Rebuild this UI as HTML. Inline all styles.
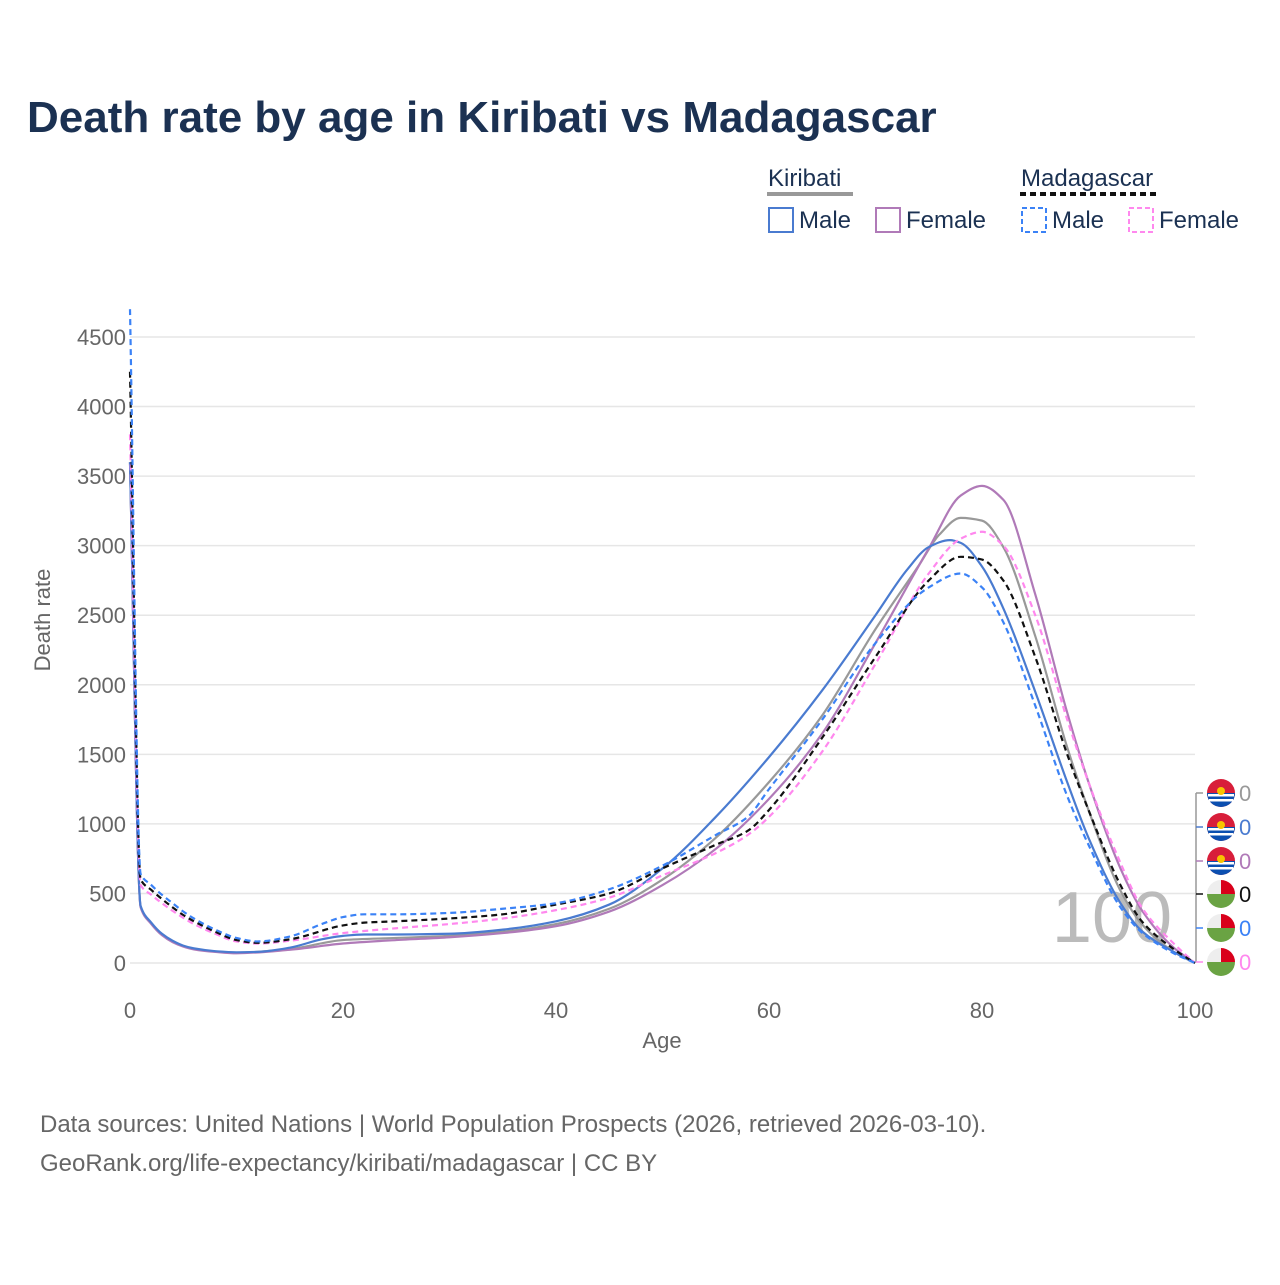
<!DOCTYPE html>
<html><head><meta charset="utf-8"><style>
body{margin:0;background:#fff;font-family:"Liberation Sans",sans-serif}
svg text{font-family:"Liberation Sans",sans-serif}
</style></head><body>
<svg id="c" width="1280" height="1280" xmlns="http://www.w3.org/2000/svg">
<text x="27" y="132" font-size="44" font-weight="bold" fill="#1b3152">Death rate by age in Kiribati vs Madagascar</text>
<g>
<text x="768" y="186" font-size="24" fill="#1b3152">Kiribati</text>
<line x1="767" y1="194" x2="853" y2="194" stroke="#999" stroke-width="4"/>
<rect x="769" y="208" width="24" height="24" fill="none" stroke="#4a7bd0" stroke-width="2"/>
<text x="799" y="228" font-size="24" fill="#1b3152">Male</text>
<rect x="876" y="208" width="24" height="24" fill="none" stroke="#b07ab8" stroke-width="2"/>
<text x="906" y="228" font-size="24" fill="#1b3152">Female</text>
<text x="1021" y="186" font-size="24" fill="#1b3152">Madagascar</text>
<line x1="1020" y1="194" x2="1160" y2="194" stroke="#111" stroke-width="4" stroke-dasharray="6,4"/>
<rect x="1022" y="208" width="24" height="24" fill="none" stroke="#3b82f6" stroke-width="2" stroke-dasharray="5,3"/>
<text x="1052" y="228" font-size="24" fill="#1b3152">Male</text>
<rect x="1129" y="208" width="24" height="24" fill="none" stroke="#ff88ee" stroke-width="2" stroke-dasharray="5,3"/>
<text x="1159" y="228" font-size="24" fill="#1b3152">Female</text>
</g>
<g id="grid"></g>
<text x="1112" y="942" font-size="72" fill="#bbb" text-anchor="middle">100</text>
<g id="lines"></g>
<g id="side"></g>
<text x="662" y="1048" font-size="22" fill="#666" text-anchor="middle">Age</text>
<text transform="translate(50,620) rotate(-90)" font-size="22" fill="#666" text-anchor="middle">Death rate</text>
<text x="40" y="1132" font-size="24" fill="#666">Data sources: United Nations | World Population Prospects (2026, retrieved 2026-03-10).</text>
<text x="40" y="1171" font-size="24" fill="#666">GeoRank.org/life-expectancy/kiribati/madagascar | CC BY</text>
</svg>
<script>
const yTicks=[0,500,1000,1500,2000,2500,3000,3500,4000,4500];
const xTicks=[0,20,40,60,80,100];
const kirTotAges=[0,1,2,3,4,5,6,8,10,15,20,25,30,35,40,45,50,55,60,65,70,74,76,78,80,82,85,88,90,93,95,98,100];
const kirTotVals=[3600,405,285,205,155,122,102,83,74,100,165,180,195,225,280,390,600,900,1300,1780,2400,2850,3080,3200,3180,2990,2350,1550,1100,520,280,80,0];
const kirMaleAges=[0,1,2,3,4,5,6,8,10,12,15,18,20,22,25,30,35,40,45,50,55,60,65,70,73,75,77,78,80,82,85,88,90,93,95,98,100];
const kirMaleVals=[3600,410,290,210,160,125,105,85,77,80,110,170,195,205,205,210,240,300,420,680,1050,1480,1960,2500,2830,2990,3040,3020,2850,2550,1950,1300,900,430,230,80,0];
const kirFemAges=[0,1,2,3,4,5,6,8,10,15,20,25,30,35,40,45,50,55,60,65,70,75,78,80,82,85,88,90,93,95,98,100];
const kirFemVals=[3600,400,280,200,150,118,98,80,70,95,140,165,185,215,265,370,560,820,1180,1650,2300,2980,3360,3430,3330,2650,1800,1300,680,380,110,0];
const madMaleAges=[0,1,2,3,4,5,6,8,10,12,15,18,20,22,25,30,35,40,45,50,55,58,60,65,70,75,78,80,82,85,88,90,93,95,98,100];
const madMaleVals=[4700,640,560,490,430,370,320,240,180,155,190,280,330,350,350,360,390,430,530,700,920,1050,1250,1750,2300,2700,2800,2700,2450,1850,1200,850,400,220,70,0];
const madTotAges=[0,1,2,3,4,5,6,8,10,12,15,20,22,25,30,35,40,45,50,55,58,60,65,70,75,78,80,82,85,88,90,93,95,98,100];
const madTotVals=[4250,600,525,460,400,345,300,225,165,145,170,270,290,300,320,350,420,500,680,850,950,1100,1620,2200,2750,2920,2900,2750,2200,1500,1100,560,300,100,0];
const madFemAges=[0,1,2,3,4,5,6,8,10,12,15,20,25,30,35,40,45,50,55,58,60,65,70,75,78,80,82,85,88,90,93,95,98,100];
const madFemVals=[3800,560,490,430,375,325,280,210,155,140,160,215,250,280,320,380,470,630,790,920,1050,1520,2150,2800,3050,3100,3000,2500,1750,1300,720,400,140,0];
const endLabels=["0","0","0","0","0","0"];

const NS="http://www.w3.org/2000/svg";
const X=a=>130+a*(1195-130)/100;
const Y=v=>963-v*(963-337)/4500;
function mk(t,attrs,parent){const e=document.createElementNS(NS,t);for(const k in attrs)e.setAttribute(k,attrs[k]);parent.appendChild(e);return e;}
const grid=document.getElementById('grid');
yTicks.forEach(v=>{
  const l=mk('line',{x1:130,x2:1195,y1:Y(v),y2:Y(v),stroke:'#e6e6e6','stroke-width':1.5},grid);
  
  
  const t=mk('text',{x:126,y:Y(v)+8,'font-size':22,fill:'#666','text-anchor':'end'},grid);
  t.textContent=v;
  
  
});
xTicks.forEach(a=>{
  const t=mk('text',{x:X(a),y:1018,'font-size':22,fill:'#666','text-anchor':'middle'},grid);
  t.textContent=a;
  
  
});
function path(ages,vals){
  const p=ages.map((a,i)=>[X(a),Y(vals[i])]);
  const n=p.length,d=[],m=new Array(n);
  for(let i=0;i<n-1;i++)d.push((p[i+1][1]-p[i][1])/(p[i+1][0]-p[i][0]));
  m[0]=d[0];m[n-1]=d[n-2];
  for(let i=1;i<n-1;i++){
    if(d[i-1]*d[i]<=0){m[i]=0;continue;}
    const h0=p[i][0]-p[i-1][0],h1=p[i+1][0]-p[i][0];
    const w1=2*h1+h0,w2=h1+2*h0;
    m[i]=(w1+w2)/(w1/d[i-1]+w2/d[i]);
  }
  let s='M'+p[0][0]+','+p[0][1];
  for(let i=0;i<n-1;i++){
    const h=(p[i+1][0]-p[i][0])/3;
    s+=`C${p[i][0]+h},${p[i][1]+m[i]*h} ${p[i+1][0]-h},${p[i+1][1]-m[i+1]*h} ${p[i+1][0]},${p[i+1][1]}`;
  }
  return s;
}
const lines=document.getElementById('lines');
const series=[
 [kirTotAges,kirTotVals,'#999999','', 'line-kiribati-total'],
 [kirFemAges,kirFemVals,'#b07ab8','', 'line-kiribati-female'],
 [kirMaleAges,kirMaleVals,'#4a7bd0','', 'line-kiribati-male'],
 [madFemAges,madFemVals,'#ff88ee','6,4', 'line-madagascar-female'],
 [madTotAges,madTotVals,'#111111','6,4', 'line-madagascar-total'],
 [madMaleAges,madMaleVals,'#3b82f6','6,4', 'line-madagascar-male']];
series.forEach(s=>{
  const e=mk('path',{d:path(s[0],s[1]),fill:'none',stroke:s[2],'stroke-width':2.2,'stroke-dasharray':s[3]},lines);
  
  
});
const side=document.getElementById('side');
const cols=['#999','#4a7bd0','#b07ab8','#111','#3b82f6','#ff88ee'];
const ys=[793,827,861,894,928,962];
mk('line',{x1:1196,x2:1196,y1:793,y2:962,stroke:'#999','stroke-width':1.5},side);
ys.forEach((y,i)=>{
  mk('line',{x1:1196,x2:1203,y1:y,y2:y,stroke:cols[i],'stroke-width':1.5},side);
  const g=mk('g',{},side);
  
  
  const r=14,cx=1221;
  if(i<3){
    mk('circle',{cx:cx,cy:y,r:r,fill:'#d81e3a'},g);
    mk('path',{d:`M${cx-r},${y} A${r},${r} 0 0 0 ${cx+r},${y} Z`,fill:'#0b4fb0'},g);
    mk('rect',{x:cx-13,y:y+1,width:26,height:2.5,fill:'#fff'},g);
    mk('rect',{x:cx-12,y:y+6,width:24,height:2.5,fill:'#fff'},g);
    mk('circle',{cx:cx,cy:y-2,r:4,fill:'#f8c300'},g);
  } else {
    mk('circle',{cx:cx,cy:y,r:r,fill:'#eee'},g);
    mk('path',{d:`M${cx},${y-r} A${r},${r} 0 0 1 ${cx+r},${y} L${cx},${y} Z`,fill:'#d9001b'},g);
    mk('path',{d:`M${cx+r},${y} A${r},${r} 0 0 1 ${cx},${y+r} L${cx},${y} Z`,fill:'#6aa343'},g);
    mk('path',{d:`M${cx},${y+r} A${r},${r} 0 0 1 ${cx-r},${y} L${cx},${y} Z`,fill:'#6aa343'},g);
  }
  const t=mk('text',{x:1239,y:y+8,'font-size':22,fill:cols[i]},side);
  t.textContent=endLabels[i];
  
  
});
</script>
</body></html>
